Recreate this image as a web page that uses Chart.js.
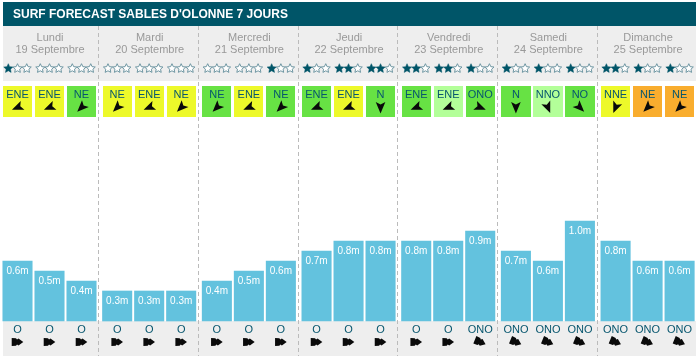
<!DOCTYPE html>
<html><head><meta charset="utf-8">
<style>html,body{margin:0;padding:0;background:#fff}#w{position:relative;width:700px;height:361px}</style>
<script src="https://cdn.jsdelivr.net/npm/chart.js@4"></script>
</head><body><div id="w"><canvas id="c" width="700" height="361"></canvas></div>
<script>
const chartTitle = "SURF FORECAST SABLES D'OLONNE 7 JOURS";
const dayNames = ["Lundi","Mardi","Mercredi","Jeudi","Vendredi","Samedi","Dimanche"];
const dayDates = ["19 Septembre","20 Septembre","21 Septembre","22 Septembre","23 Septembre","24 Septembre","25 Septembre"];
const waveHeights = [0.6,0.5,0.4, 0.3,0.3,0.3, 0.4,0.5,0.6, 0.7,0.8,0.8, 0.8,0.8,0.9, 0.7,0.6,1.0, 0.8,0.6,0.6];
const starRatings = [1,0,0, 0,0,0, 0,0,1, 1,2,2, 2,2,1, 1,1,1, 2,1,1];
const windDirs = ["ENE","ENE","NE", "NE","ENE","NE", "NE","ENE","NE", "ENE","ENE","N", "ENE","ENE","ONO", "N","NNO","NO", "NNE","NE","NE"];
const windLevels = ["y","y","g", "y","y","y", "g","y","g", "g","y","g", "g","l","g", "g","l","g", "y","o","o"];
const swellDirs = ["O","O","O", "O","O","O", "O","O","O", "O","O","O", "O","O","ONO", "ONO","ONO","ONO", "ONO","ONO","ONO"];

const windColors = {y:"#edf92a", g:"#67e244", l:"#b3ff99", o:"#f9ad2e"};
const compass = {N:0,NNE:22.5,NE:45,ENE:67.5,E:90,ESE:112.5,SE:135,SSE:157.5,S:180,SSO:202.5,SO:225,OSO:247.5,O:270,ONO:292.5,NO:315,NNO:337.5};
const DAY_STEP = 3.115;
const slotX = i => Math.floor(i/3)*DAY_STEP + i%3;
const FONT = '"Liberation Sans", Arial, sans-serif';

function star(ctx,cx,cy,r,filled){
  ctx.beginPath();
  for(let k=0;k<10;k++){
    const a=-Math.PI/2+k*Math.PI/5, q=k%2?r*0.48:r;
    ctx[k?'lineTo':'moveTo'](cx+q*Math.cos(a),cy+q*Math.sin(a));
  }
  ctx.closePath();
  if(filled){ctx.fillStyle="#005568";ctx.fill();ctx.strokeStyle="#005568";ctx.lineWidth=0.5;ctx.stroke();}
  else{ctx.fillStyle="#fff";ctx.fill();ctx.strokeStyle="#6f97a3";ctx.lineWidth=1;ctx.stroke();}
}
function windArrow(ctx,cx,cy,deg){
  ctx.save();ctx.translate(cx,cy);ctx.rotate(deg*Math.PI/180);
  ctx.beginPath();ctx.moveTo(0,6);ctx.lineTo(-4.8,-5.5);ctx.lineTo(0,-3);ctx.lineTo(4.8,-5.5);ctx.closePath();
  ctx.fillStyle="#0a0a0a";ctx.fill();ctx.restore();
}
function swellArrow(ctx,cx,cy,deg){
  ctx.save();ctx.translate(cx,cy);ctx.rotate((deg-270)*Math.PI/180);
  ctx.beginPath();
  [[-5.8,-4],[-1.5,-3.8],[-0.5,-2.6],[1,-3.6],[5.8,0],[1,3.6],[-0.5,2.6],[-1.5,3.8],[-5.8,4]]
    .forEach((p,k)=>ctx[k?'lineTo':'moveTo'](p[0],p[1]));
  ctx.closePath();ctx.fillStyle="#0a0a0a";ctx.fill();ctx.restore();
}

const backdrop = {
  id:'backdrop',
  beforeDatasetsDraw(chart){
    const {ctx,scales:{x}}=chart;
    ctx.save();
    ctx.fillStyle="#eeeeee";ctx.fillRect(3,26,693,55);ctx.fillRect(3,321,693,35);
    ctx.fillStyle="#005568";ctx.fillRect(3,2,693,24);
    ctx.strokeStyle="#bbbbbb";ctx.lineWidth=1;ctx.setLineDash([4,3]);
    for(let d=1;d<dayNames.length;d++){
      const mid=(x.getPixelForValue(slotX(d*3-1))+x.getPixelForValue(slotX(d*3)))/2;
      const px=Math.floor(mid-0.5)+0.5;
      ctx.beginPath();ctx.moveTo(px,26);ctx.lineTo(px,356);ctx.stroke();
    }
    ctx.restore();
  },
  afterDatasetsDraw(chart){
    const {ctx,scales:{x,y}}=chart;
    ctx.save();ctx.setLineDash([]);
    ctx.textAlign="left";ctx.textBaseline="alphabetic";
    ctx.fillStyle="#fff";ctx.font="bold 12px "+FONT;
    ctx.fillText(chartTitle,13,18);
    ctx.textAlign="center";
    dayNames.forEach((n,d)=>{
      const c=x.getPixelForValue(slotX(d*3+1));
      ctx.fillStyle="#999999";ctx.font="11px "+FONT;
      ctx.fillText(n,c+0.5,41);ctx.fillText(dayDates[d],c+0.5,53);
    });
    waveHeights.forEach((v,i)=>{
      const c=x.getPixelForValue(slotX(i));
      for(let s=0;s<3;s++) star(ctx,c-9.2+s*9.2,68.5,4.8,s<starRatings[i]);
      const left=Math.round(c-14.6), right=Math.round(c+14.6);
      ctx.fillStyle=windColors[windLevels[i]];ctx.fillRect(left,86,right-left,31);
      ctx.fillStyle="#07566e";ctx.font="11px "+FONT;
      ctx.fillText(windDirs[i],c,98);
      windArrow(ctx,c,107.5,compass[windDirs[i]]);
      ctx.fillStyle="#fff";ctx.font="10px "+FONT;
      ctx.fillText(v.toFixed(1)+"m",c,y.getPixelForValue(v)+13);
      ctx.fillStyle="#07566e";ctx.font="11px "+FONT;
      ctx.fillText(swellDirs[i],c,333);
      swellArrow(ctx,c,342,compass[swellDirs[i]]);
    });
    ctx.restore();
  }
};

new Chart(document.getElementById('c'),{
  type:'bar',
  data:{datasets:[{
    data:waveHeights.map((v,i)=>({x:slotX(i),y:v})),
    backgroundColor:"#63c2de",borderWidth:0,barThickness:29.4
  }]},
  options:{
    responsive:false,animation:false,
    layout:{padding:0},
    plugins:{legend:{display:false},tooltip:{enabled:false},title:{display:false}},
    scales:{
      x:{type:'linear',display:false,offset:false,min:-0.547,max:21.328},
      y:{type:'linear',display:false,min:-0.4,max:3.21}
    }
  },
  plugins:[backdrop]
});
</script></body></html>
